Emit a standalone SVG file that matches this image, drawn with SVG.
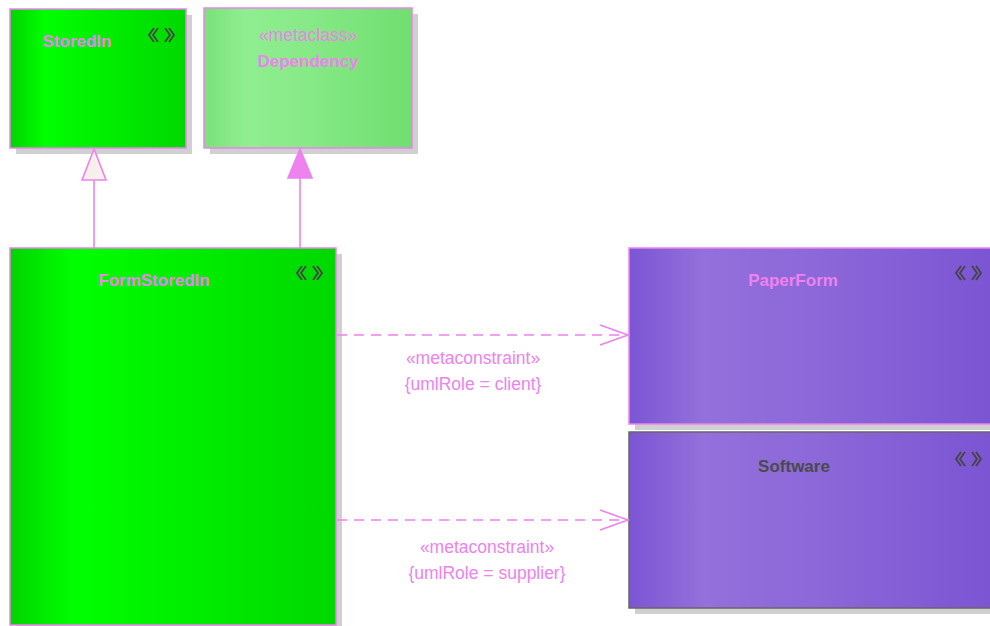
<svg xmlns="http://www.w3.org/2000/svg" width="990" height="626" viewBox="0 0 990 626">
<style>
.name{font-family:"Liberation Sans",Arial,sans-serif;font-weight:bold;font-size:17px;text-anchor:middle;fill:#ee82ee}
.lbl{font-family:"Liberation Sans",Arial,sans-serif;font-size:17.5px;text-anchor:middle;fill:#ee82ee}
.shadow{fill:#d0d0d0}
.edge{stroke:#ee82ee;stroke-width:1.6;fill:none}
.icon{stroke:#444;stroke-width:1.8;fill:none}
</style>
<defs>
<linearGradient id="gGreen" x1="0" y1="0" x2="1" y2="0">
<stop offset="0" stop-color="#00d400"/><stop offset="0.2" stop-color="#00ff00"/><stop offset="0.5" stop-color="#00f000"/><stop offset="1" stop-color="#00d800"/>
</linearGradient>
<linearGradient id="gLight" x1="0" y1="0" x2="1" y2="0">
<stop offset="0" stop-color="#78e278"/><stop offset="0.2" stop-color="#90ee90"/><stop offset="0.5" stop-color="#86ea86"/><stop offset="1" stop-color="#70de70"/>
</linearGradient>
<linearGradient id="gPurple" x1="0" y1="0" x2="1" y2="0">
<stop offset="0" stop-color="#7c55d4"/><stop offset="0.2" stop-color="#9370db"/><stop offset="0.5" stop-color="#8c68d9"/><stop offset="1" stop-color="#7b54d3"/>
</linearGradient>
<g id="st">
<polyline points="6,0 1,7 6,14"/><polyline points="10,0 5,7 10,14"/>
<polyline points="17,0 22,7 17,14"/><polyline points="21,0 26,7 21,14"/>
</g>
</defs>

<g id="StoredIn">
<rect class="shadow" x="16" y="15" width="176" height="139"/>
<rect x="10" y="9" width="176" height="139" fill="url(#gGreen)" stroke="#ee82ee" stroke-width="1.5"/>
<text class="name" x="77" y="47">StoredIn</text>
<use href="#st" class="icon" x="148" y="28"/>
</g>

<g id="Dependency">
<rect class="shadow" x="210" y="14" width="208" height="140"/>
<rect x="204" y="8" width="208" height="140" fill="url(#gLight)" stroke="#ee82ee" stroke-width="1.5"/>
<text class="lbl" x="308" y="41">«metaclass»</text>
<text class="name" x="308" y="67">Dependency</text>
</g>

<g id="FormStoredIn">
<rect class="shadow" x="16" y="254" width="326" height="372"/>
<rect x="10" y="248" width="326" height="377" fill="url(#gGreen)" stroke="#ee82ee" stroke-width="1.5"/>
<text class="name" x="154" y="286">FormStoredIn</text>
<use href="#st" class="icon" x="296" y="266"/>
</g>

<g id="PaperForm">
<rect class="shadow" x="635" y="254" width="360" height="176"/>
<rect x="629" y="248" width="370" height="176" fill="url(#gPurple)" stroke="#ee82ee" stroke-width="1.5"/>
<text class="name" x="793" y="286">PaperForm</text>
<use href="#st" class="icon" x="955" y="266"/>
</g>

<g id="Software">
<rect class="shadow" x="635" y="438" width="360" height="176"/>
<rect x="629" y="432" width="370" height="176" fill="url(#gPurple)" stroke="#666" stroke-width="1.5"/>
<text class="name" x="794" y="472" style="fill:#4a4a4a">Software</text>
<use href="#st" class="icon" x="955" y="452"/>
</g>

<g id="connectors">
<line class="edge" x1="94" y1="248" x2="94" y2="180"/>
<polygon points="94,149 82,180 106,180" fill="#f7efea" stroke="#ee82ee" stroke-width="1.6"/>
<line class="edge" x1="300" y1="248" x2="300" y2="178"/>
<polygon points="300,149 288,178 312,178" fill="#ee82ee" stroke="#ee82ee" stroke-width="1.6"/>
<line class="edge" x1="337" y1="335" x2="628" y2="335" stroke-dasharray="10,7"/>
<polyline class="edge" points="600,325 628,335 600,345"/>
<text class="lbl" x="473" y="364">«metaconstraint»</text>
<text class="lbl" x="473" y="390">{umlRole = client}</text>
<line class="edge" x1="337" y1="520" x2="628" y2="520" stroke-dasharray="10,7"/>
<polyline class="edge" points="600,510 628,520 600,530"/>
<text class="lbl" x="487" y="553">«metaconstraint»</text>
<text class="lbl" x="487" y="579">{umlRole = supplier}</text>
</g>
</svg>
